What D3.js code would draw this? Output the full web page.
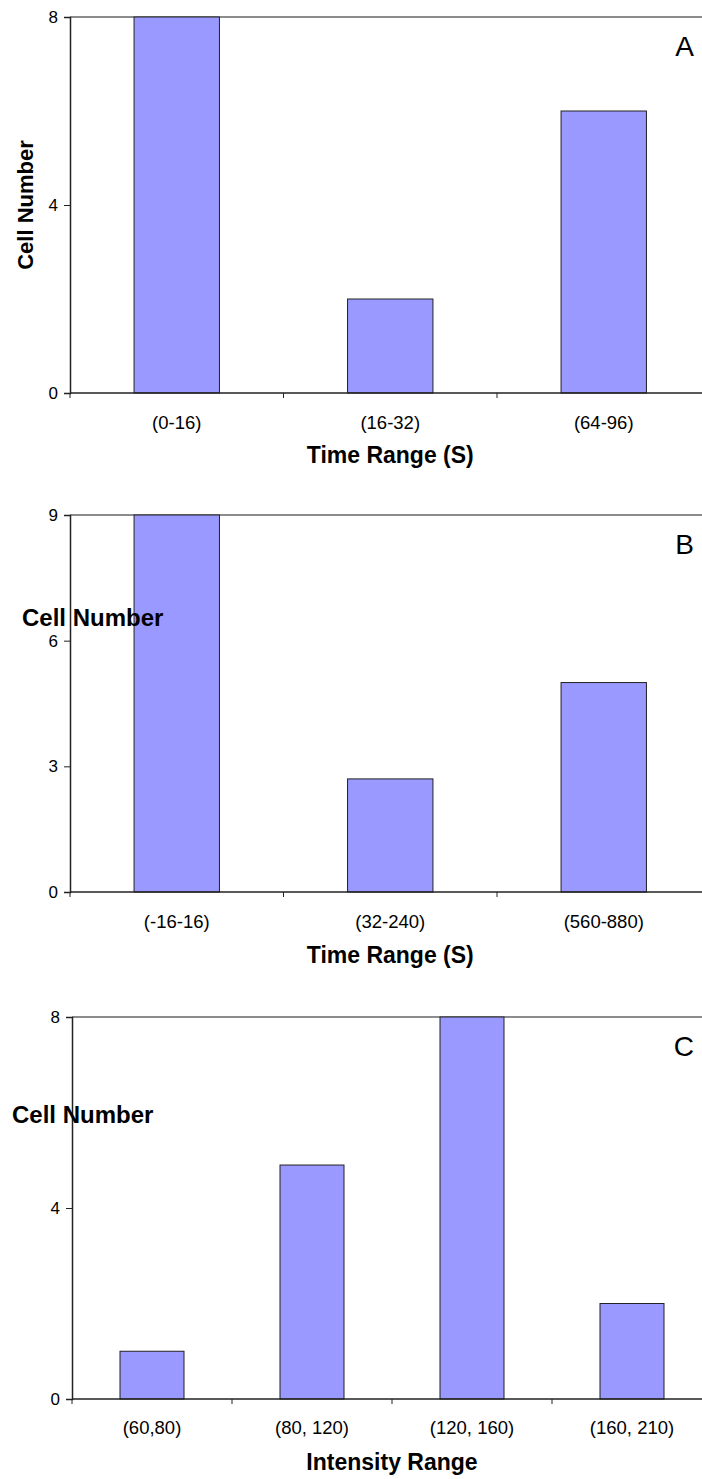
<html>
<head>
<script src="https://d3js.org/d3.v7.min.js"></script>
<style>
  body { margin: 0; background: #fff; }
  text { font-family: "Liberation Sans", Arial, sans-serif; fill: #000; }
</style>
</head>
<body>
<svg width="702" height="1479"></svg>
<script>
// panel A
var catsA = ["(0-16)", "(16-32)", "(64-96)"];
var valsA = [8, 2, 6];
var ticksA = [0, 4, 8];
// panel B
var catsB = ["(-16-16)", "(32-240)", "(560-880)"];
var valsB = [9, 2.7, 5];
var ticksB = [0, 3, 6, 9];
// panel C
var catsC = ["(60,80)", "(80, 120)", "(120, 160)", "(160, 210)"];
var valsC = [1, 4.9, 8, 2];
var ticksC = [0, 4, 8];

var svg = d3.select("svg");

var panels = [
  {cats: catsA, vals: valsA, ticks: ticksA, letter: "A", xTitle: "Time Range (S)",
   left: 70, right: 710.5, top: 17, bottom: 393, rotateY: true, yx: 33, yy: 205, yfs: 22,
   tickY: 429, titleY: 463},
  {cats: catsB, vals: valsB, ticks: ticksB, letter: "B", xTitle: "Time Range (S)",
   left: 70, right: 710.5, top: 515, bottom: 892, rotateY: false, yx: 22, yy: 626, yfs: 24,
   tickY: 928, titleY: 963},
  {cats: catsC, vals: valsC, ticks: ticksC, letter: "C", xTitle: "Intensity Range",
   left: 72, right: 712, top: 1017, bottom: 1399, rotateY: false, yx: 12, yy: 1123, yfs: 24,
   tickY: 1434, titleY: 1470}
];

panels.forEach(function(p) {
  var g = svg.append("g");

  var x = d3.scaleBand()
    .domain(p.cats)
    .range([p.left, p.right])
    .paddingInner(0.6)
    .paddingOuter(0.3);
  var y = d3.scaleLinear()
    .domain([0, d3.max(p.ticks)])
    .range([p.bottom, p.top]);

  // plot area top border
  g.append("line")
    .attr("x1", p.left).attr("x2", p.right)
    .attr("y1", p.top).attr("y2", p.top)
    .attr("stroke", "#666").attr("stroke-width", 1.5);

  // bars
  g.selectAll(".bar")
    .data(p.vals)
    .enter()
    .append("rect")
    .attr("x", function(d, i) { return x(p.cats[i]); })
    .attr("y", function(d) { return y(d); })
    .attr("width", x.bandwidth())
    .attr("height", function(d) { return p.bottom - y(d); })
    .attr("fill", "#9999ff")
    .attr("stroke", "#222")
    .attr("stroke-width", 1);

  // y axis
  var yAxis = d3.axisLeft(y).tickValues(p.ticks).tickSize(6).tickPadding(6);
  var ya = g.append("g")
    .attr("transform", "translate(" + p.left + ",0)")
    .call(yAxis);
  ya.select(".domain").attr("stroke", "#222").attr("stroke-width", 1.5);
  ya.selectAll(".tick line").attr("stroke", "#222");
  ya.selectAll(".tick text")
    .style("font-family", "Liberation Sans, Arial, sans-serif")
    .style("font-size", "17px")
    .attr("fill", "#000");

  // x axis line and boundary ticks
  g.append("line")
    .attr("x1", p.left).attr("x2", p.right)
    .attr("y1", p.bottom).attr("y2", p.bottom)
    .attr("stroke", "#222").attr("stroke-width", 1.5);
  d3.range(p.cats.length + 1).forEach(function(i) {
    var bx = p.left + i * (p.right - p.left) / p.cats.length;
    g.append("line")
      .attr("x1", bx).attr("x2", bx)
      .attr("y1", p.bottom).attr("y2", p.bottom + 5)
      .attr("stroke", "#222");
  });

  // category labels
  g.selectAll(".cat")
    .data(p.cats)
    .enter()
    .append("text")
    .attr("x", function(d) { return x(d) + x.bandwidth() / 2; })
    .attr("y", p.tickY)
    .attr("text-anchor", "middle")
    .style("font-size", "18.5px")
    .text(function(d) { return d; });

  // x title
  g.append("text")
    .attr("x", (p.left + p.right) / 2)
    .attr("y", p.titleY)
    .attr("text-anchor", "middle")
    .style("font-size", "23px")
    .style("font-weight", "bold")
    .text(p.xTitle);

  // y title
  if (p.rotateY) {
    g.append("text")
      .attr("transform", "translate(" + p.yx + "," + p.yy + ") rotate(-90)")
      .attr("text-anchor", "middle")
      .style("font-size", p.yfs + "px")
      .style("font-weight", "bold")
      .text("Cell Number");
  } else {
    g.append("text")
      .attr("x", p.yx)
      .attr("y", p.yy)
      .style("font-size", p.yfs + "px")
      .style("font-weight", "bold")
      .text("Cell Number");
  }

  // panel letter
  g.append("text")
    .attr("x", 694)
    .attr("y", p.top + 39)
    .attr("text-anchor", "end")
    .style("font-size", "28px")
    .text(p.letter);
});
</script>
</body>
</html>
